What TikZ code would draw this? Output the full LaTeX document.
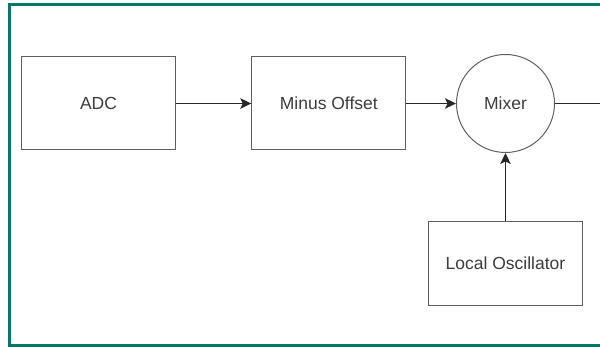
\documentclass[tikz,border=0pt]{standalone}
\usepackage{fontspec}
\setmainfont{Liberation Sans}
\usetikzlibrary{arrows.meta}
\definecolor{frameteal}{RGB}{0,122,104}
\definecolor{edgegray}{RGB}{95,95,95}
\definecolor{textgray}{RGB}{60,60,60}
\definecolor{wiregray}{RGB}{40,40,40}
\tikzset{
  boxtext/.style={font=\fontsize{17.5}{20}\selectfont, text=textgray},
  block/.style={draw=edgegray, line width=1pt, minimum width=154pt, minimum height=93pt,
    inner sep=0pt, boxtext},
  mixernode/.style={draw=edgegray, line width=1pt, circle, minimum size=98pt,
    inner sep=0pt, boxtext},
  link/.style={draw=wiregray, line width=1.2pt, -{Stealth[length=11pt,width=10.5pt,inset=2.5pt]}},
  plainlink/.style={draw=wiregray, line width=1.2pt},
}
\begin{document}
\begin{tikzpicture}[x=1pt,y=-1pt]
\useasboundingbox (0,0) rectangle (600,347);
% outer frame, open on the right
\draw[frameteal, line width=3pt] (600,4.7) -- (9.2,4.7) -- (9.2,345.5) -- (600,345.5);
% processing chain
\node[block] (adc) at (98.5,103.5) {ADC};
\node[block] (offset) at (328.8,103.5) {Minus Offset};
\node[mixernode] (mixer) at (505.5,103.5) {Mixer};
\node[block, minimum height=84pt] (lo) at (505.5,263.7) {Local Oscillator};
\coordinate (out) at (600,103.5);
\draw[link] (adc) -- (offset);
\draw[link] (offset) -- (mixer);
\draw[link] (lo) -- (mixer);
\draw[plainlink] (mixer) -- (out);
\end{tikzpicture}
\end{document}
